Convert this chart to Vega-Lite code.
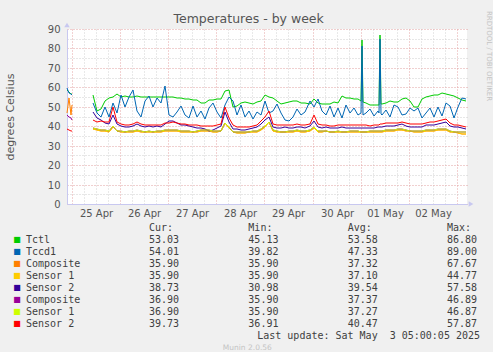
{
  "$schema": "https://vega.github.io/schema/vega-lite/v6.json",
  "background": "#f0f0f0",
  "padding": {"left": 4, "top": 10, "right": 0, "bottom": 0},
  "title": {"text": "Temperatures - by week", "font": "DejaVu Sans", "fontSize": 12.5, "fontWeight": "normal", "color": "#555555", "anchor": "middle", "offset": -15},
  "config": {"view": {"stroke": null}, "font": "DejaVu Sans", "axis": {"labelOverlap": false}},
  "spacing": 5,
  "datasets": {
    "temps": [
      {"t":"2025-04-24T21:30","seg":"a","tctl":58.5,"tccd1":59.5,"ca":47,"cb":46,"s2b":38.5},
      {"t":"2025-04-24T22:30","seg":"a","tctl":57.5,"tccd1":57,"ca":54.5,"cb":45,"s2b":38},
      {"t":"2025-04-24T23:30","seg":"a","tctl":56.5,"tccd1":56.5,"ca":46,"cb":44,"s2b":37.5},
      {"t":"2025-04-25T00:00","seg":"a","tctl":56.5,"tccd1":56,"ca":51,"cb":43,"s2b":37.8},
      {"t":"2025-04-25T10:30","seg":"b","tctl":56,"tccd1":52,"ca":38.5,"s1a":38.5,"s2a":47.5,"cb":38.9,"s1b":38.9,"s2b":43},
      {"t":"2025-04-25T12:30","seg":"b","tctl":48,"tccd1":47,"ca":38,"s1a":38,"s2a":44,"cb":38.4,"s1b":38.4,"s2b":42},
      {"t":"2025-04-25T14:30","seg":"b","tctl":49,"tccd1":45,"ca":37.5,"s1a":37.5,"s2a":43,"cb":37.9,"s1b":37.9,"s2b":42.5},
      {"t":"2025-04-25T16:30","seg":"b","tctl":53,"tccd1":50,"ca":37.5,"s1a":37.5,"s2a":41.5,"cb":37.9,"s1b":37.9,"s2b":42},
      {"t":"2025-04-25T18:30","seg":"b","tctl":54.5,"tccd1":44.5,"ca":37.2,"s1a":37.2,"s2a":41,"cb":37.6,"s1b":37.6,"s2b":42},
      {"t":"2025-04-25T20:30","seg":"b","tctl":55,"tccd1":52,"ca":39.5,"s1a":39.5,"s2a":46,"cb":39.9,"s1b":39.9,"s2b":50},
      {"t":"2025-04-25T22:30","seg":"b","tctl":56.5,"tccd1":47,"ca":37.3,"s1a":37.3,"s2a":41,"cb":37.7,"s1b":37.7,"s2b":42},
      {"t":"2025-04-26T00:30","seg":"b","tctl":55,"tccd1":56,"ca":37,"s1a":37,"s2a":40,"cb":37.4,"s1b":37.4,"s2b":41},
      {"t":"2025-04-26T02:30","seg":"b","tctl":55.5,"tccd1":50,"ca":36.8,"s1a":36.8,"s2a":39.5,"cb":37.2,"s1b":37.2,"s2b":40.8},
      {"t":"2025-04-26T04:30","seg":"b","tctl":55,"tccd1":55,"ca":37,"s1a":37,"s2a":39.8,"cb":37.4,"s1b":37.4,"s2b":40.5},
      {"t":"2025-04-26T06:30","seg":"b","tctl":55,"tccd1":58.5,"ca":37.2,"s1a":37.2,"s2a":40.3,"cb":37.6,"s1b":37.6,"s2b":41},
      {"t":"2025-04-26T08:30","seg":"b","tctl":55.5,"tccd1":48,"ca":37.5,"s1a":37.5,"s2a":41,"cb":37.9,"s1b":37.9,"s2b":42},
      {"t":"2025-04-26T10:30","seg":"b","tctl":55,"tccd1":45,"ca":37,"s1a":37,"s2a":40,"cb":37.4,"s1b":37.4,"s2b":41},
      {"t":"2025-04-26T12:30","seg":"b","tctl":55,"tccd1":53,"ca":36.8,"s1a":36.8,"s2a":39.5,"cb":37.2,"s1b":37.2,"s2b":40.5},
      {"t":"2025-04-26T14:30","seg":"b","tctl":55,"tccd1":55.5,"ca":37,"s1a":37,"s2a":40,"cb":37.4,"s1b":37.4,"s2b":40.8},
      {"t":"2025-04-26T16:30","seg":"b","tctl":55,"tccd1":50,"ca":36.8,"s1a":36.8,"s2a":39.5,"cb":37.2,"s1b":37.2,"s2b":40.5},
      {"t":"2025-04-26T18:30","seg":"b","tctl":55,"tccd1":54.5,"ca":37,"s1a":37,"s2a":40.2,"cb":37.4,"s1b":37.4,"s2b":40.5},
      {"t":"2025-04-26T20:30","seg":"b","tctl":55,"tccd1":52,"ca":37,"s1a":37,"s2a":39.8,"cb":37.4,"s1b":37.4,"s2b":40.5},
      {"t":"2025-04-26T22:30","seg":"b","tctl":55,"tccd1":60.5,"ca":37.5,"s1a":37.5,"s2a":41,"cb":37.9,"s1b":37.9,"s2b":41.5},
      {"t":"2025-04-27T00:30","seg":"b","tctl":54.8,"tccd1":46,"ca":37.5,"s1a":37.5,"s2a":42.5,"cb":37.9,"s1b":37.9,"s2b":41.5},
      {"t":"2025-04-27T02:30","seg":"b","tctl":54.8,"tccd1":45,"ca":37.8,"s1a":37.8,"s2a":42.5,"cb":38.2,"s1b":38.2,"s2b":42},
      {"t":"2025-04-27T04:30","seg":"b","tctl":54.5,"tccd1":47.5,"ca":37.5,"s1a":37.5,"s2a":41.5,"cb":37.9,"s1b":37.9,"s2b":41.5},
      {"t":"2025-04-27T06:30","seg":"b","tctl":54.3,"tccd1":50.5,"ca":37.2,"s1a":37.2,"s2a":40.5,"cb":37.6,"s1b":37.6,"s2b":41},
      {"t":"2025-04-27T08:30","seg":"b","tctl":54,"tccd1":46,"ca":37,"s1a":37,"s2a":40.5,"cb":37.4,"s1b":37.4,"s2b":41},
      {"t":"2025-04-27T10:30","seg":"b","tctl":54,"tccd1":44,"ca":37,"s1a":37,"s2a":40,"cb":37.4,"s1b":37.4,"s2b":40.8},
      {"t":"2025-04-27T12:30","seg":"b","tctl":53.5,"tccd1":50.5,"ca":36.8,"s1a":36.8,"s2a":39.5,"cb":37.2,"s1b":37.2,"s2b":40.5},
      {"t":"2025-04-27T14:30","seg":"b","tctl":53.5,"tccd1":45,"ca":37,"s1a":37,"s2a":39.3,"cb":37.4,"s1b":37.4,"s2b":40.5},
      {"t":"2025-04-27T16:30","seg":"b","tctl":52,"tccd1":48,"ca":37.5,"s1a":37.5,"s2a":39,"cb":37.9,"s1b":37.9,"s2b":40.3},
      {"t":"2025-04-27T18:30","seg":"b","tctl":51.8,"tccd1":43.5,"ca":37.5,"s1a":37.5,"s2a":38.5,"cb":37.9,"s1b":37.9,"s2b":40.3},
      {"t":"2025-04-27T20:30","seg":"b","tctl":53.5,"tccd1":49.5,"ca":37.5,"s1a":37.5,"s2a":37.8,"cb":37.9,"s1b":37.9,"s2b":40.3},
      {"t":"2025-04-27T22:30","seg":"b","tctl":53.5,"tccd1":52,"ca":37,"s1a":37,"s2a":38,"cb":37.4,"s1b":37.4,"s2b":40.3},
      {"t":"2025-04-28T00:30","seg":"b","tctl":53.8,"tccd1":47.5,"ca":37,"s1a":37,"s2a":39,"cb":37.4,"s1b":37.4,"s2b":40.5},
      {"t":"2025-04-28T02:30","seg":"b","tctl":54,"tccd1":44,"ca":37.3,"s1a":37.3,"s2a":40,"cb":37.7,"s1b":37.7,"s2b":41},
      {"t":"2025-04-28T04:30","seg":"b","tctl":58,"tccd1":51,"ca":41.5,"s1a":41.5,"s2a":47.5,"cb":41.9,"s1b":41.9,"s2b":50},
      {"t":"2025-04-28T06:30","seg":"b","tctl":58.5,"tccd1":55,"ca":39,"s1a":39,"s2a":42,"cb":39.4,"s1b":39.4,"s2b":44},
      {"t":"2025-04-28T08:30","seg":"b","tctl":50,"tccd1":53,"ca":36.8,"s1a":36.8,"s2a":38.5,"cb":37.2,"s1b":37.2,"s2b":40.5},
      {"t":"2025-04-28T10:30","seg":"b","tctl":50.5,"tccd1":46,"ca":36.5,"s1a":36.5,"s2a":38.5,"cb":36.9,"s1b":36.9,"s2b":39.8},
      {"t":"2025-04-28T12:30","seg":"b","tctl":52,"tccd1":51,"ca":36.5,"s1a":36.5,"s2a":38.3,"cb":36.9,"s1b":36.9,"s2b":39.5},
      {"t":"2025-04-28T14:30","seg":"b","tctl":52.5,"tccd1":44.5,"ca":36.5,"s1a":36.5,"s2a":38.3,"cb":36.9,"s1b":36.9,"s2b":39.5},
      {"t":"2025-04-28T16:30","seg":"b","tctl":52,"tccd1":48,"ca":36.8,"s1a":36.8,"s2a":38.5,"cb":37.2,"s1b":37.2,"s2b":39.5},
      {"t":"2025-04-28T18:30","seg":"b","tctl":51.5,"tccd1":43.5,"ca":37,"s1a":37,"s2a":39,"cb":37.4,"s1b":37.4,"s2b":40},
      {"t":"2025-04-28T20:30","seg":"b","tctl":52.5,"tccd1":47.5,"ca":37.2,"s1a":37.2,"s2a":39.5,"cb":37.6,"s1b":37.6,"s2b":40.5},
      {"t":"2025-04-28T22:30","seg":"b","tctl":53,"tccd1":46,"ca":38,"s1a":38,"s2a":41,"cb":38.4,"s1b":38.4,"s2b":42.5},
      {"t":"2025-04-29T00:30","seg":"b","tctl":56,"tccd1":53,"ca":39.5,"s1a":39.5,"s2a":43,"cb":39.9,"s1b":39.9,"s2b":45},
      {"t":"2025-04-29T02:30","seg":"b","tctl":55,"tccd1":47,"ca":42,"s1a":42,"s2a":45,"cb":42.4,"s1b":42.4,"s2b":48},
      {"t":"2025-04-29T04:30","seg":"b","tctl":54.7,"tccd1":48,"ca":37.5,"s1a":37.5,"s2a":39.8,"cb":37.9,"s1b":37.9,"s2b":41},
      {"t":"2025-04-29T06:30","seg":"b","tctl":53,"tccd1":51.5,"ca":37,"s1a":37,"s2a":39.3,"cb":37.4,"s1b":37.4,"s2b":40.5},
      {"t":"2025-04-29T08:30","seg":"b","tctl":51.5,"tccd1":47,"ca":36.8,"s1a":36.8,"s2a":39.3,"cb":37.2,"s1b":37.2,"s2b":40.5},
      {"t":"2025-04-29T10:30","seg":"b","tctl":52,"tccd1":43,"ca":36.8,"s1a":36.8,"s2a":39.5,"cb":37.2,"s1b":37.2,"s2b":40.8},
      {"t":"2025-04-29T12:30","seg":"b","tctl":52.5,"tccd1":42.5,"ca":37,"s1a":37,"s2a":39.3,"cb":37.4,"s1b":37.4,"s2b":40.5},
      {"t":"2025-04-29T14:30","seg":"b","tctl":53,"tccd1":44.5,"ca":37,"s1a":37,"s2a":39.3,"cb":37.4,"s1b":37.4,"s2b":40.5},
      {"t":"2025-04-29T16:30","seg":"b","tctl":53,"tccd1":49,"ca":37.5,"s1a":37.5,"s2a":39.8,"cb":37.9,"s1b":37.9,"s2b":41},
      {"t":"2025-04-29T18:30","seg":"b","tctl":52,"tccd1":46,"ca":37.2,"s1a":37.2,"s2a":39.5,"cb":37.6,"s1b":37.6,"s2b":40.8},
      {"t":"2025-04-29T20:30","seg":"b","tctl":52,"tccd1":47.5,"ca":37,"s1a":37,"s2a":39.3,"cb":37.4,"s1b":37.4,"s2b":40.5},
      {"t":"2025-04-29T22:30","seg":"b","tctl":51.5,"tccd1":53,"ca":37.5,"s1a":37.5,"s2a":40,"cb":37.9,"s1b":37.9,"s2b":41},
      {"t":"2025-04-30T00:30","seg":"b","tctl":54,"tccd1":50,"ca":39,"s1a":39,"s2a":42.5,"cb":39.4,"s1b":39.4,"s2b":46},
      {"t":"2025-04-30T02:30","seg":"b","tctl":52,"tccd1":54,"ca":37.2,"s1a":37.2,"s2a":39.8,"cb":37.6,"s1b":37.6,"s2b":41},
      {"t":"2025-04-30T04:30","seg":"b","tctl":51.5,"tccd1":48,"ca":37,"s1a":37,"s2a":39.3,"cb":37.4,"s1b":37.4,"s2b":40.5},
      {"t":"2025-04-30T06:30","seg":"b","tctl":51.5,"tccd1":46,"ca":37.3,"s1a":37.3,"s2a":39.5,"cb":37.7,"s1b":37.7,"s2b":40.5},
      {"t":"2025-04-30T08:30","seg":"b","tctl":51.5,"tccd1":50.5,"ca":36.8,"s1a":36.8,"s2a":39,"cb":37.2,"s1b":37.2,"s2b":40.3},
      {"t":"2025-04-30T10:30","seg":"b","tctl":52.5,"tccd1":44.5,"ca":36.8,"s1a":36.8,"s2a":39,"cb":37.2,"s1b":37.2,"s2b":40.3},
      {"t":"2025-04-30T12:30","seg":"b","tctl":52,"tccd1":49.5,"ca":37,"s1a":37,"s2a":39.3,"cb":37.4,"s1b":37.4,"s2b":40.5},
      {"t":"2025-04-30T14:30","seg":"b","tctl":55.5,"tccd1":44,"ca":36.8,"s1a":36.8,"s2a":39.5,"cb":37.2,"s1b":37.2,"s2b":40.8},
      {"t":"2025-04-30T16:30","seg":"b","tctl":54.5,"tccd1":51,"ca":36.8,"s1a":36.8,"s2a":39.3,"cb":37.2,"s1b":37.2,"s2b":40.5},
      {"t":"2025-04-30T18:30","seg":"b","tctl":54.5,"tccd1":47,"ca":37,"s1a":37,"s2a":39.3,"cb":37.4,"s1b":37.4,"s2b":40.5},
      {"t":"2025-04-30T20:30","seg":"b","tctl":54,"tccd1":49.5,"ca":37,"s1a":37,"s2a":39.3,"cb":37.4,"s1b":37.4,"s2b":40.5},
      {"t":"2025-04-30T22:30","seg":"b","tctl":54,"tccd1":46,"ca":37,"s1a":37,"s2a":39.3,"cb":37.4,"s1b":37.4,"s2b":40.5},
      {"t":"2025-05-01T00:00","seg":"b","tctl":53,"tccd1":47,"ca":36.8,"s1a":36.8,"s2a":39.3,"cb":37.2,"s1b":37.2,"s2b":40.5},
      {"t":"2025-05-01T00:30","seg":"b","tctl":84.2,"tccd1":81,"ca":36.8,"s1a":36.8,"s2a":39.3,"cb":37.2,"s1b":37.2,"s2b":40.5},
      {"t":"2025-05-01T01:00","seg":"b","tctl":52.5,"tccd1":46,"ca":36.8,"s1a":36.8,"s2a":39.3,"cb":37.2,"s1b":37.2,"s2b":40.5},
      {"t":"2025-05-01T02:30","seg":"b","tctl":52,"tccd1":47,"ca":36.8,"s1a":36.8,"s2a":39.3,"cb":37.2,"s1b":37.2,"s2b":40.5},
      {"t":"2025-05-01T04:30","seg":"b","tctl":51,"tccd1":49,"ca":37,"s1a":37,"s2a":39,"cb":37.4,"s1b":37.4,"s2b":40.3},
      {"t":"2025-05-01T06:30","seg":"b","tctl":51,"tccd1":45.5,"ca":37,"s1a":37,"s2a":39.3,"cb":37.4,"s1b":37.4,"s2b":40.5},
      {"t":"2025-05-01T08:30","seg":"b","tctl":51,"tccd1":48,"ca":37,"s1a":37,"s2a":39.5,"cb":37.4,"s1b":37.4,"s2b":40.8},
      {"t":"2025-05-01T09:00","seg":"b","tctl":51,"tccd1":47,"ca":37,"s1a":37,"s2a":39.5,"cb":37.4,"s1b":37.4,"s2b":40.8},
      {"t":"2025-05-01T09:30","seg":"b","tctl":86.8,"tccd1":85,"ca":37.1,"s1a":37.1,"s2a":39.6,"cb":37.5,"s1b":37.5,"s2b":40.9},
      {"t":"2025-05-01T10:00","seg":"b","tctl":51.3,"tccd1":46.5,"ca":37.1,"s1a":37.1,"s2a":39.7,"cb":37.5,"s1b":37.5,"s2b":41},
      {"t":"2025-05-01T10:30","seg":"b","tctl":51.5,"tccd1":46,"ca":37.2,"s1a":37.2,"s2a":39.8,"cb":37.6,"s1b":37.6,"s2b":41},
      {"t":"2025-05-01T12:30","seg":"b","tctl":52,"tccd1":48.5,"ca":37.5,"s1a":37.5,"s2a":40.2,"cb":37.9,"s1b":37.9,"s2b":41.5},
      {"t":"2025-05-01T14:30","seg":"b","tctl":53,"tccd1":45,"ca":37.5,"s1a":37.5,"s2a":40.3,"cb":37.9,"s1b":37.9,"s2b":41.5},
      {"t":"2025-05-01T16:30","seg":"b","tctl":52.5,"tccd1":51,"ca":37.8,"s1a":37.8,"s2a":40.3,"cb":38.2,"s1b":38.2,"s2b":41.5},
      {"t":"2025-05-01T18:30","seg":"b","tctl":52.5,"tccd1":50,"ca":38,"s1a":38,"s2a":40.5,"cb":38.4,"s1b":38.4,"s2b":41.8},
      {"t":"2025-05-01T20:30","seg":"b","tctl":54,"tccd1":46,"ca":38,"s1a":38,"s2a":41,"cb":38.4,"s1b":38.4,"s2b":42.3},
      {"t":"2025-05-01T22:30","seg":"b","tctl":54.5,"tccd1":46.5,"ca":37.5,"s1a":37.5,"s2a":40.3,"cb":37.9,"s1b":37.9,"s2b":41.5},
      {"t":"2025-05-02T00:30","seg":"b","tctl":53,"tccd1":49.5,"ca":37.3,"s1a":37.3,"s2a":39.8,"cb":37.7,"s1b":37.7,"s2b":41},
      {"t":"2025-05-02T02:30","seg":"b","tctl":50,"tccd1":48,"ca":37.2,"s1a":37.2,"s2a":39.8,"cb":37.6,"s1b":37.6,"s2b":41},
      {"t":"2025-05-02T04:30","seg":"b","tctl":49.8,"tccd1":49.5,"ca":37,"s1a":37,"s2a":39.8,"cb":37.4,"s1b":37.4,"s2b":41},
      {"t":"2025-05-02T06:30","seg":"b","tctl":54,"tccd1":44,"ca":37.2,"s1a":37.2,"s2a":39.8,"cb":37.6,"s1b":37.6,"s2b":41},
      {"t":"2025-05-02T08:30","seg":"b","tctl":55,"tccd1":47,"ca":37.5,"s1a":37.5,"s2a":40.5,"cb":37.9,"s1b":37.9,"s2b":41.8},
      {"t":"2025-05-02T10:30","seg":"b","tctl":55.5,"tccd1":49.5,"ca":37.5,"s1a":37.5,"s2a":40.8,"cb":37.9,"s1b":37.9,"s2b":42},
      {"t":"2025-05-02T12:30","seg":"b","tctl":56,"tccd1":45,"ca":37.8,"s1a":37.8,"s2a":40.8,"cb":38.2,"s1b":38.2,"s2b":42},
      {"t":"2025-05-02T14:30","seg":"b","tctl":56,"tccd1":50,"ca":38,"s1a":38,"s2a":41.3,"cb":38.4,"s1b":38.4,"s2b":42.5},
      {"t":"2025-05-02T16:30","seg":"b","tctl":57,"tccd1":45.5,"ca":38.2,"s1a":38.2,"s2a":41.5,"cb":38.6,"s1b":38.6,"s2b":43},
      {"t":"2025-05-02T18:30","seg":"b","tctl":56.5,"tccd1":52,"ca":38.3,"s1a":38.3,"s2a":42,"cb":38.7,"s1b":38.7,"s2b":43.5},
      {"t":"2025-05-02T20:30","seg":"b","tctl":56,"tccd1":50.5,"ca":37.2,"s1a":37.2,"s2a":40.3,"cb":37.6,"s1b":37.6,"s2b":41.5},
      {"t":"2025-05-02T22:30","seg":"b","tctl":55.5,"tccd1":44,"ca":36.8,"s1a":36.8,"s2a":39.8,"cb":37.2,"s1b":37.2,"s2b":40.8},
      {"t":"2025-05-03T00:30","seg":"b","tctl":54.5,"tccd1":50,"ca":36.5,"s1a":36.5,"s2a":39.5,"cb":37,"s1b":37,"s2b":40.5},
      {"t":"2025-05-03T02:30","seg":"b","tctl":53.5,"tccd1":54.5,"ca":36.2,"s1a":36.2,"s2a":39.3,"cb":36.9,"s1b":36.9,"s2b":40.3},
      {"t":"2025-05-03T04:30","seg":"b","tctl":53,"tccd1":54,"ca":35.9,"s1a":35.9,"s2a":38.8,"cb":36.9,"s1b":36.9,"s2b":39.8}
    ],
    "legendRows": [
      {"key":"tctl","name":"Tctl","cur":53.03,"min":45.13,"avg":53.58,"max":86.80},
      {"key":"tccd1","name":"Tccd1","cur":54.01,"min":39.82,"avg":47.33,"max":89.00},
      {"key":"ca","name":"Composite","cur":35.90,"min":35.90,"avg":37.32,"max":67.67},
      {"key":"s1a","name":"Sensor 1","cur":35.90,"min":35.90,"avg":37.10,"max":44.77},
      {"key":"s2a","name":"Sensor 2","cur":38.73,"min":30.98,"avg":39.54,"max":57.58},
      {"key":"cb","name":"Composite","cur":36.90,"min":35.90,"avg":37.37,"max":46.89},
      {"key":"s1b","name":"Sensor 1","cur":36.90,"min":35.90,"avg":37.27,"max":46.87},
      {"key":"s2b","name":"Sensor 2","cur":39.73,"min":36.91,"avg":40.47,"max":57.87}
    ],
    "headers": [
      {"stat":"cur","label":"Cur:"},
      {"stat":"min","label":"Min:"},
      {"stat":"avg","label":"Avg:"},
      {"stat":"max","label":"Max:"}
    ]
  },
  "vconcat": [
    {
      "width": 400,
      "height": 175,
      "view": {"fill": "white", "stroke": null},
      "resolve": {"axis": {"x": "independent", "y": "independent"}},
      "layer": [
        {
          "data": {"name": "temps"},
          "transform": [
            {"fold": ["tctl","tccd1","ca","s1a","s2a","cb","s1b","s2b"], "as": ["series","v"]},
            {"filter": "isValid(datum.v)"}
          ],
          "mark": {"type": "line", "strokeWidth": 1},
          "encoding": {
            "x": {
              "field": "t", "type": "temporal",
              "scale": {"domain": [{"year":2025,"month":"Apr","date":24,"hours":21,"minutes":30},{"year":2025,"month":"May","date":3,"hours":5,"minutes":5}], "round": true},
              "axis": {
                "orient": "bottom",
                "title": null,
                "values": [
                  {"year":2025,"month":"Apr","date":25,"hours":0},{"year":2025,"month":"Apr","date":25,"hours":6},{"year":2025,"month":"Apr","date":25,"hours":12},{"year":2025,"month":"Apr","date":25,"hours":18},
                  {"year":2025,"month":"Apr","date":26,"hours":0},{"year":2025,"month":"Apr","date":26,"hours":6},{"year":2025,"month":"Apr","date":26,"hours":12},{"year":2025,"month":"Apr","date":26,"hours":18},
                  {"year":2025,"month":"Apr","date":27,"hours":0},{"year":2025,"month":"Apr","date":27,"hours":6},{"year":2025,"month":"Apr","date":27,"hours":12},{"year":2025,"month":"Apr","date":27,"hours":18},
                  {"year":2025,"month":"Apr","date":28,"hours":0},{"year":2025,"month":"Apr","date":28,"hours":6},{"year":2025,"month":"Apr","date":28,"hours":12},{"year":2025,"month":"Apr","date":28,"hours":18},
                  {"year":2025,"month":"Apr","date":29,"hours":0},{"year":2025,"month":"Apr","date":29,"hours":6},{"year":2025,"month":"Apr","date":29,"hours":12},{"year":2025,"month":"Apr","date":29,"hours":18},
                  {"year":2025,"month":"Apr","date":30,"hours":0},{"year":2025,"month":"Apr","date":30,"hours":6},{"year":2025,"month":"Apr","date":30,"hours":12},{"year":2025,"month":"Apr","date":30,"hours":18},
                  {"year":2025,"month":"May","date":1,"hours":0},{"year":2025,"month":"May","date":1,"hours":6},{"year":2025,"month":"May","date":1,"hours":12},{"year":2025,"month":"May","date":1,"hours":18},
                  {"year":2025,"month":"May","date":2,"hours":0},{"year":2025,"month":"May","date":2,"hours":6},{"year":2025,"month":"May","date":2,"hours":12},{"year":2025,"month":"May","date":2,"hours":18},
                  {"year":2025,"month":"May","date":3,"hours":0}
                ],
                "grid": true,
                "gridColor": {"condition": {"test": "hours(datum.value) === 0", "value": "#e4a4a4"}, "value": "#d2d2d2"},
                "gridDash": [1, 2],
                "ticks": false,
                "labels": false,
                "domainColor": "#c8c8f0"
              }
            },
            "y": {
              "field": "v", "type": "quantitative",
              "scale": {"domain": [0, 90], "nice": false, "zero": false, "round": true},
              "axis": {
                "orient": "left",
                "title": null,
                "values": [0,5,10,15,20,25,30,35,40,45,50,55,60,65,70,75,80,85,90],
                "grid": true,
                "gridColor": {"condition": {"test": "datum.value % 10 === 0", "value": "#e0a0a0"}, "value": "#cecece"},
                "gridDash": [1, 2],
                "ticks": false,
                "labels": false,
                "domainColor": "#c8c8f0"
              }
            },
            "color": {
              "field": "series", "type": "nominal",
              "scale": {"domain": ["tctl","tccd1","ca","s1a","s2a","cb","s1b","s2b"], "range": ["#00cc00","#0066b3","#ff8000","#ffcc00","#330099","#990099","#ccff00","#ff0000"]},
              "legend": null
            },
            "detail": {"field": "seg", "type": "nominal"}
          }
        },
        {
          "data": {"values": [{"k": 1}]},
          "mark": {"type": "point", "shape": "triangle-up", "filled": true, "color": "#c8c8f0", "opacity": 1, "size": 30},
          "encoding": {
            "x": {
              "datum": {"year":2025,"month":"Apr","date":24,"hours":21,"minutes":30}, "type": "temporal",
              "axis": {
                "orient": "bottom",
                "title": null,
                "values": [
                  {"year":2025,"month":"Apr","date":25,"hours":12},
                  {"year":2025,"month":"Apr","date":26,"hours":12},
                  {"year":2025,"month":"Apr","date":27,"hours":12},
                  {"year":2025,"month":"Apr","date":28,"hours":12},
                  {"year":2025,"month":"Apr","date":29,"hours":12},
                  {"year":2025,"month":"Apr","date":30,"hours":12},
                  {"year":2025,"month":"May","date":1,"hours":12},
                  {"year":2025,"month":"May","date":2,"hours":12}
                ],
                "format": "%d %b",
                "grid": false,
                "ticks": false,
                "domain": false,
                "labelOverlap": false,
                "labelFlush": false,
                "labelFont": "DejaVu Sans",
                "labelFontSize": 10,
                "labelColor": "#555555",
                "labelPadding": 4
              }
            },
            "y": {
              "datum": 92, "type": "quantitative",
              "axis": {
                "orient": "left",
                "title": "degrees Celsius",
                "titleFont": "DejaVu Sans",
                "titleFontSize": 11,
                "titleFontWeight": "normal",
                "titleColor": "#555555",
                "titlePadding": 32,
                "values": [0,10,20,30,40,50,60,70,80,90],
                "grid": false,
                "ticks": false,
                "domain": false,
                "labelOverlap": false,
                "labelFont": "DejaVu Sans",
                "labelFontSize": 10,
                "labelColor": "#555555",
                "labelPadding": 7
              }
            }
          }
        },
        {
          "data": {"values": [{"k": 1}]},
          "mark": {"type": "point", "shape": "triangle-right", "filled": true, "color": "#c8c8f0", "opacity": 1, "size": 30},
          "encoding": {
            "x": {"datum": {"year":2025,"month":"May","date":3,"hours":6,"minutes":50}, "type": "temporal", "axis": null},
            "y": {"datum": 0, "type": "quantitative", "axis": null}
          }
        },
        {
          "data": {"values": [{"k": 1}]},
          "mark": {"type": "text", "text": "RRDTOOL / TOBI OETIKER", "angle": 90, "font": "DejaVu Sans", "fontSize": 7, "color": "#c4c4c4", "align": "center", "baseline": "middle"},
          "encoding": {
            "x": {"datum": {"year":2025,"month":"May","date":3,"hours":16,"minutes":0}, "type": "temporal", "axis": null},
            "y": {"datum": 76, "type": "quantitative", "axis": null}
          }
        }
      ]
    },
    {
      "width": 400,
      "height": 120,
      "layer": [
        {
          "data": {"name": "legendRows"},
          "transform": [{"fold": ["cur","min","avg","max"], "as": ["stat","val"]}],
          "mark": {"type": "text", "align": "left", "baseline": "middle", "font": "DejaVu Sans Mono", "fontSize": 10, "color": "#404040"},
          "encoding": {
            "x": {"field": "stat", "type": "nominal", "scale": {"type": "point", "domain": ["cur","min","avg","max"], "padding": 0.5134, "align": 0.804}, "axis": null},
            "y": {"field": "key", "type": "nominal", "scale": {"type": "point", "domain": ["hdr","tctl","tccd1","ca","s1a","s2a","cb","s1b","s2b","upd","ver"], "padding": 0}, "axis": null},
            "text": {"field": "val", "type": "quantitative", "format": ".2f"}
          }
        },
        {
          "data": {"name": "legendRows"},
          "mark": {"type": "text", "align": "left", "baseline": "middle", "font": "DejaVu Sans Mono", "fontSize": 10, "color": "#404040", "dx": -123},
          "encoding": {
            "x": {"datum": "cur", "type": "nominal", "axis": null},
            "y": {"field": "key", "type": "nominal", "axis": null},
            "text": {"field": "name", "type": "nominal"}
          }
        },
        {
          "data": {"name": "legendRows"},
          "mark": {"type": "text", "text": "■", "align": "center", "baseline": "middle", "font": "DejaVu Sans", "fontSize": 8, "dx": -132},
          "encoding": {
            "x": {"datum": "cur", "type": "nominal", "axis": null},
            "y": {"field": "key", "type": "nominal", "axis": null},
            "color": {"field": "key", "type": "nominal", "legend": null}
          }
        },
        {
          "data": {"name": "headers"},
          "mark": {"type": "text", "align": "left", "baseline": "middle", "font": "DejaVu Sans Mono", "fontSize": 10, "color": "#404040"},
          "encoding": {
            "x": {"field": "stat", "type": "nominal", "axis": null},
            "y": {"datum": "hdr", "type": "nominal", "axis": null},
            "text": {"field": "label", "type": "nominal"}
          }
        },
        {
          "data": {"values": [{"label": "Last update: Sat May\u00a0 3 05:00:05 2025"}]},
          "mark": {"type": "text", "align": "right", "baseline": "middle", "font": "DejaVu Sans Mono", "fontSize": 10, "color": "#404040", "dx": 33},
          "encoding": {
            "x": {"datum": "max", "type": "nominal", "axis": null},
            "y": {"datum": "upd", "type": "nominal", "axis": null},
            "text": {"field": "label", "type": "nominal"}
          }
        },
        {
          "data": {"values": [{"label": "Munin 2.0.56"}]},
          "mark": {"type": "text", "align": "center", "baseline": "middle", "font": "DejaVu Sans", "fontSize": 7.5, "color": "#c4c4c4", "dx": -1},
          "encoding": {
            "x": {"datum": "min", "type": "nominal", "axis": null},
            "y": {"datum": "ver", "type": "nominal", "axis": null},
            "text": {"field": "label", "type": "nominal"}
          }
        }
      ]
    }
  ]
}
